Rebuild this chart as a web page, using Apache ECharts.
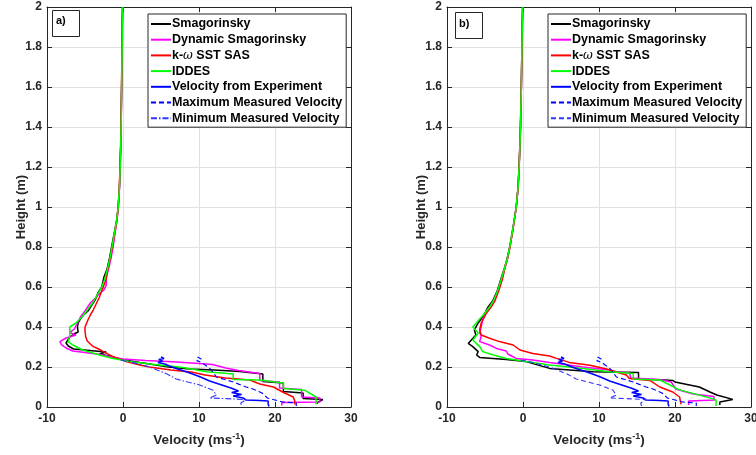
<!DOCTYPE html>
<html><head><meta charset="utf-8">
<script src="https://cdn.jsdelivr.net/npm/echarts/dist/echarts.min.js"></script>
<style>html,body{margin:0;padding:0;background:#fff}#c{width:756px;height:455px}</style>
</head><body><div id="c"></div>
<script>
// ---------- data: [velocity (m/s), height (m)] ----------
const seriesNames = ['Smagorinsky','Dynamic Smagorinsky','k-ω SST SAS','IDDES','Velocity from Experiment','Maximum Measured Velocity','Minimum Measured Velocity'];
const xTicks = [-10, 0, 10, 20, 30];
const yTicks = [0, 0.2, 0.4, 0.6, 0.8, 1, 1.2, 1.4, 1.6, 1.8, 2];

// Panel a)
const smagA = [[-0.05,2],[-0.1,1.9],[-0.12,1.8],[-0.15,1.7],[-0.18,1.6],[-0.22,1.5],[-0.26,1.4],[-0.3,1.3],[-0.38,1.2],[-0.47,1.1],[-0.64,1.0],[-0.85,0.93],[-1.1,0.88],[-1.5,0.8],[-1.8,0.74],[-2.1,0.69],[-2.5,0.65],[-2.8,0.6],[-3.3,0.57],[-3.6,0.54],[-4.1,0.51],[-4.6,0.48],[-5.2,0.46],[-5.6,0.44],[-5.9,0.42],[-6.0,0.4],[-5.8,0.39],[-5.9,0.375],[-6.4,0.366],[-7.0,0.35],[-7.5,0.32],[-7.2,0.305],[-6.5,0.29],[-4.4,0.283],[-2.2,0.275],[-2.3,0.268],[-3.1,0.265],[-1.5,0.252],[0,0.236],[2.2,0.222],[3.5,0.215],[6,0.2],[8.8,0.19],[12,0.185],[15.4,0.178],[18.4,0.165],[18.4,0.127],[21.1,0.12],[21.1,0.077],[23.7,0.07],[23.7,0.043],[26.3,0.037],[25.7,0.025],[25.5,0.018]];
const dynA = [[-0.02,2],[-0.08,1.9],[-0.1,1.8],[-0.14,1.7],[-0.17,1.6],[-0.2,1.5],[-0.25,1.4],[-0.3,1.3],[-0.36,1.2],[-0.45,1.1],[-0.6,1.0],[-0.8,0.93],[-1.0,0.88],[-1.3,0.8],[-1.6,0.74],[-1.9,0.69],[-2.2,0.65],[-2.2,0.61],[-2.5,0.585],[-3.0,0.57],[-3.5,0.55],[-4.3,0.52],[-5.0,0.48],[-5.6,0.45],[-6.0,0.42],[-6.4,0.39],[-7.0,0.372],[-6.2,0.36],[-7.5,0.345],[-8.3,0.327],[-8.1,0.312],[-7.5,0.295],[-6.6,0.28],[-4.5,0.27],[-3.0,0.262],[-1.5,0.25],[0,0.24],[3,0.233],[6.5,0.226],[9,0.22],[11.8,0.212],[13.5,0.195],[15.2,0.183],[18,0.168],[18,0.133],[20.6,0.125],[20.6,0.095],[23.5,0.088],[23.5,0.05],[25.9,0.045],[25.9,0.025],[20.9,0.022],[20.9,0.008]];
const kwA = [[-0.08,2],[-0.12,1.9],[-0.14,1.8],[-0.16,1.7],[-0.2,1.6],[-0.23,1.5],[-0.27,1.4],[-0.32,1.3],[-0.4,1.2],[-0.48,1.1],[-0.62,1.0],[-0.82,0.93],[-1.05,0.88],[-1.4,0.8],[-1.7,0.74],[-2.0,0.69],[-2.2,0.64],[-2.6,0.6],[-3.1,0.55],[-3.6,0.51],[-3.9,0.486],[-4.3,0.46],[-4.6,0.436],[-5.0,0.4],[-5.0,0.38],[-4.9,0.35],[-4.7,0.33],[-4.3,0.315],[-3.9,0.302],[-3.2,0.29],[-2.6,0.277],[-1.3,0.252],[0.4,0.227],[2.2,0.21],[3.5,0.2],[6.3,0.185],[9,0.175],[10.8,0.16],[13.5,0.145],[16.7,0.135],[18,0.115],[19.8,0.1],[21,0.075],[22.4,0.05],[22.6,0.03],[22.6,0.012]];
const iddesA = [[-0.04,2],[-0.09,1.9],[-0.11,1.8],[-0.15,1.7],[-0.18,1.6],[-0.21,1.5],[-0.25,1.4],[-0.3,1.3],[-0.37,1.2],[-0.46,1.1],[-0.63,1.0],[-0.84,0.93],[-1.08,0.88],[-1.45,0.8],[-1.75,0.74],[-2.05,0.69],[-2.4,0.64],[-2.8,0.6],[-3.4,0.56],[-4.0,0.52],[-4.8,0.48],[-5.4,0.45],[-6.2,0.42],[-7.0,0.4],[-7.0,0.36],[-7.2,0.327],[-6.6,0.31],[-5.3,0.285],[-3.1,0.26],[-1.3,0.243],[0.9,0.227],[3.5,0.215],[7.9,0.198],[11,0.176],[14.5,0.165],[14.5,0.138],[18,0.135],[21.1,0.12],[21.1,0.093],[23.9,0.084],[25.4,0.05],[25.4,0.013]];

// Panel b)
const smagB = [[-0.05,2],[-0.1,1.9],[-0.15,1.8],[-0.18,1.7],[-0.22,1.6],[-0.28,1.5],[-0.33,1.4],[-0.42,1.3],[-0.52,1.2],[-0.65,1.1],[-0.9,1.0],[-1.3,0.9],[-1.75,0.8],[-2.1,0.74],[-2.4,0.7],[-2.9,0.64],[-3.4,0.58],[-4.0,0.53],[-4.6,0.5],[-5.0,0.47],[-5.5,0.44],[-5.9,0.42],[-6.4,0.386],[-6.2,0.36],[-6.8,0.335],[-7.2,0.318],[-6.6,0.302],[-5.9,0.277],[-6.1,0.26],[-5.7,0.248],[-2.2,0.238],[0.4,0.227],[3.5,0.193],[9.2,0.176],[15.2,0.172],[15.2,0.14],[18.6,0.135],[19.7,0.133],[20,0.125],[23.2,0.1],[24.6,0.075],[25.5,0.06],[27.6,0.038],[25.9,0.025],[25.9,0.01]];
const dynB = [[-0.03,2],[-0.08,1.9],[-0.13,1.8],[-0.17,1.7],[-0.21,1.6],[-0.27,1.5],[-0.32,1.4],[-0.4,1.3],[-0.5,1.2],[-0.63,1.1],[-0.88,1.0],[-1.28,0.9],[-1.72,0.8],[-2.05,0.74],[-2.35,0.7],[-2.8,0.64],[-3.3,0.58],[-3.9,0.53],[-4.4,0.5],[-4.9,0.47],[-5.3,0.44],[-5.5,0.4],[-5.7,0.37],[-5.5,0.355],[-5.7,0.327],[-4.4,0.31],[-3.5,0.293],[-2.2,0.28],[-2.0,0.265],[-1.5,0.255],[-0.9,0.243],[1.3,0.235],[3.5,0.222],[7.9,0.2],[11.4,0.185],[12.3,0.176],[14,0.17],[14.2,0.145],[18,0.138],[19.5,0.125],[20.1,0.09],[22.4,0.065],[25.1,0.053],[25.2,0.035],[21.8,0.03],[21.8,0.01]];
const kwB = [[-0.06,2],[-0.1,1.9],[-0.14,1.8],[-0.18,1.7],[-0.22,1.6],[-0.28,1.5],[-0.34,1.4],[-0.42,1.3],[-0.52,1.2],[-0.64,1.1],[-0.88,1.0],[-1.27,0.9],[-1.7,0.8],[-2.05,0.74],[-2.35,0.7],[-2.7,0.64],[-3.2,0.58],[-3.7,0.53],[-4.2,0.5],[-4.8,0.47],[-5.2,0.44],[-5.5,0.42],[-5.7,0.386],[-5.5,0.36],[-4.4,0.344],[-3.1,0.327],[-1.3,0.31],[-0.4,0.285],[1.3,0.268],[3.5,0.255],[4.4,0.243],[6.1,0.223],[8.8,0.209],[11,0.19],[13.6,0.16],[14,0.142],[16.7,0.133],[18,0.1],[19.7,0.075],[20.6,0.05],[20.8,0.013]];
const iddesB = [[-0.04,2],[-0.09,1.9],[-0.14,1.8],[-0.18,1.7],[-0.22,1.6],[-0.27,1.5],[-0.33,1.4],[-0.41,1.3],[-0.51,1.2],[-0.64,1.1],[-0.89,1.0],[-1.29,0.9],[-1.74,0.8],[-2.08,0.74],[-2.38,0.7],[-2.85,0.64],[-3.35,0.58],[-3.9,0.53],[-4.4,0.5],[-5.0,0.47],[-5.7,0.44],[-6.6,0.4],[-5.9,0.37],[-6.6,0.335],[-5.7,0.302],[-5.3,0.277],[-3.9,0.26],[-2.2,0.243],[0.4,0.227],[3.5,0.21],[7.9,0.193],[11.4,0.176],[14.5,0.168],[14.5,0.14],[18,0.135],[18.8,0.12],[20.5,0.087],[24.9,0.042],[25.4,0.034],[25.4,0.005]];

// Experimental profiles (same measurements in both panels)
const expVel = [[5.0,0.25],[5.4,0.243],[4.7,0.237],[5.2,0.23],[4.6,0.223],[5.5,0.215],[6.1,0.205],[7.2,0.19],[8.8,0.17],[10.2,0.15],[11.4,0.13],[13.0,0.11],[14.2,0.095],[15.2,0.08],[14.3,0.072],[15.6,0.062],[14.5,0.055],[15.8,0.045],[16.2,0.035],[18,0.032],[19.1,0.03],[19.1,0.015],[19.2,0.003]];
const expMax = [[9.8,0.25],[10.3,0.24],[9.7,0.232],[10.4,0.222],[10.8,0.21],[11.5,0.19],[12.3,0.15],[14.5,0.125],[16.2,0.1],[17.1,0.09],[18.3,0.07],[19,0.045],[21,0.025],[22.8,0.02],[22.8,0.005]];
const expMin = [[-0.3,0.235],[1,0.225],[2.5,0.21],[3.5,0.2],[4.5,0.185],[5.8,0.165],[7,0.14],[8.5,0.125],[10.1,0.11],[11.8,0.085],[12.3,0.06],[11.4,0.045],[13.6,0.042],[16.2,0.037],[15.5,0.02],[15.6,0.005]];

const lineColors = ['#000000','#ff00ff','#ff0000','#00ff00','#0000ff','#0000ff','#3333ff'];

// ---------- chart ----------
const FONT = '"Liberation Sans", Arial, Helvetica, sans-serif';
const TXT = '#262626';
const chart = echarts.init(document.getElementById('c'));

const grids = [
  {left: 47, top: 7, width: 304, height: 400, outerBoundsMode: 'none'},
  {left: 447, top: 7, width: 304, height: 400, outerBoundsMode: 'none'}
];

function mainX(g) {
  return {
    type: 'value', gridIndex: g, min: xTicks[0], max: xTicks[xTicks.length-1], interval: 10,
    position: 'bottom',
    name: 'Velocity (ms{sup|-1})', nameLocation: 'middle', nameGap: 25, nameMoveOverlap: false,
    nameTextStyle: {fontFamily: FONT, fontWeight: 'bold', fontSize: 13.5, color: TXT,
      rich: {sup: {fontFamily: FONT, fontWeight: 'bold', fontSize: 9, color: TXT, verticalAlign: 'top', padding: [0,0,8,0]}}},
    axisLine: {show: true, onZero: false, lineStyle: {color: TXT, width: 1}},
    axisTick: {show: true, inside: true, length: 5, lineStyle: {color: TXT}},
    axisLabel: {fontFamily: FONT, fontWeight: 'bold', fontSize: 12, color: TXT, margin: 6},
    splitLine: {show: true, lineStyle: {color: '#e1e1e1', width: 1}}
  };
}
function mirrorX(g) {
  return {
    type: 'value', gridIndex: g, min: xTicks[0], max: xTicks[xTicks.length-1], interval: 10, position: 'top',
    axisLine: {show: true, onZero: false, lineStyle: {color: TXT, width: 1}},
    axisTick: {show: true, inside: true, length: 5, lineStyle: {color: TXT}},
    axisLabel: {show: false}, splitLine: {show: false}
  };
}
function mainY(g) {
  return {
    type: 'value', gridIndex: g, min: yTicks[0], max: yTicks[yTicks.length-1], interval: 0.2,
    position: 'left',
    name: 'Height (m)', nameLocation: 'middle', nameRotate: 90, nameGap: 19, nameMoveOverlap: false,
    nameTextStyle: {fontFamily: FONT, fontWeight: 'bold', fontSize: 13, color: TXT},
    axisLine: {show: true, onZero: false, lineStyle: {color: TXT, width: 1}},
    axisTick: {show: true, inside: true, length: 5, lineStyle: {color: TXT}},
    axisLabel: {fontFamily: FONT, fontWeight: 'bold', fontSize: 12, color: TXT, margin: 5,
      formatter: v => String(Math.round(v * 10) / 10)},
    splitLine: {show: true, lineStyle: {color: '#e1e1e1', width: 1}}
  };
}
function mirrorY(g) {
  return {
    type: 'value', gridIndex: g, min: yTicks[0], max: yTicks[yTicks.length-1], interval: 0.2, position: 'right',
    axisLine: {show: true, onZero: false, lineStyle: {color: TXT, width: 1}},
    axisTick: {show: true, inside: true, length: 5, lineStyle: {color: TXT}},
    axisLabel: {show: false}, splitLine: {show: false}
  };
}

function mkSeries(name, data, xi, yi, color, width, type) {
  return {
    name: name, type: 'line', data: data, xAxisIndex: xi, yAxisIndex: yi,
    symbol: 'none', showSymbol: false, animation: false, clip: true,
    lineStyle: {color: color, width: width, type: type || 'solid'},
    itemStyle: {color: color},
    emphasis: {disabled: true}
  };
}

const panelA = [smagA, dynA, kwA, iddesA, expVel, expMax, expMin];
const panelB = [smagB, dynB, kwB, iddesB, expVel, expMax, expMin];
const widths = [1.5, 1.5, 1.5, 1.5, 1.5, 1.2, 1.1];
const typesA = ['solid','solid','solid','solid','solid',[5,3],[6,2,1.5,2]];
const typesB = ['solid','solid','solid','solid','solid',[5,3],[5,3]];

const series = [];
panelA.forEach((d, i) => series.push(mkSeries(seriesNames[i], d, 0, 0, lineColors[i], widths[i], typesA[i])));
panelB.forEach((d, i) => series.push(mkSeries(seriesNames[i], d, 2, 2, lineColors[i], widths[i], typesB[i])));

function mkLegend(left, top, lastType) {
  return {
    orient: 'vertical', left: left, top: top,
    data: seriesNames.map((n, i) => i === 6 ? {name: n, lineStyle: {type: lastType}} : n),
    backgroundColor: '#ffffff', borderColor: '#262626', borderWidth: 1, borderRadius: 0,
    padding: [3, 4, 2, 2], itemGap: 1.7, itemWidth: 20, itemHeight: 14,
    selectedMode: false,
    itemStyle: {opacity: 0},
    textStyle: {fontFamily: FONT, fontWeight: 'bold', fontSize: 12.5, color: '#000', lineHeight: 14, padding: [0,0,0,-4],
      rich: {w: {fontFamily: 'DejaVu Serif, serif', fontStyle: 'italic', fontWeight: 'normal', fontSize: 12, color: '#000'}}},
    formatter: n => n === 'k-ω SST SAS' ? 'k-{w|ω} SST SAS' : n
  };
}

const option = {
  backgroundColor: '#ffffff',
  animation: false,
  grid: grids,
  xAxis: [mainX(0), mirrorX(0), mainX(1), mirrorX(1)],
  yAxis: [mainY(0), mirrorY(0), mainY(1), mirrorY(1)],
  legend: [mkLegend(148, 14, [6,2,1.5,2]), mkLegend(548, 14, [5,3])],
  series: series,
  graphic: [
    {type: 'rect', shape: {x: 52.5, y: 10.5, width: 27, height: 26}, style: {fill: '#fff', stroke: '#262626', lineWidth: 1}, z: 100},
    {type: 'text', x: 56, y: 21, style: {text: 'a)', font: 'bold 11px ' + FONT, fill: '#000', verticalAlign: 'middle'}, z: 101},
    {type: 'rect', shape: {x: 455.5, y: 12.5, width: 27, height: 26}, style: {fill: '#fff', stroke: '#262626', lineWidth: 1}, z: 100},
    {type: 'text', x: 459, y: 24, style: {text: 'b)', font: 'bold 11px ' + FONT, fill: '#000', verticalAlign: 'middle'}, z: 101}
  ]
};
chart.setOption(option);
</script></body></html>
